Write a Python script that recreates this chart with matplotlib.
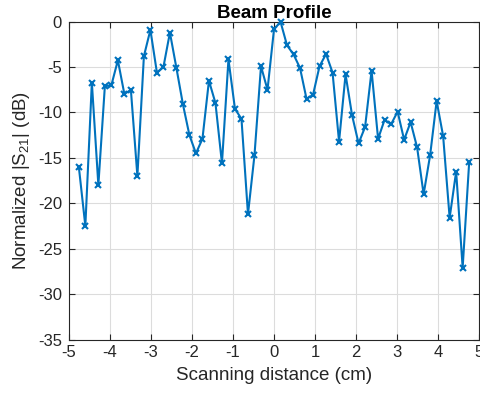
import numpy as np
import matplotlib
matplotlib.use('Agg')
import matplotlib.pyplot as plt

# scan positions (cm), 61 equally spaced steps across the aperture
x_cm = np.linspace(-4.76, 4.76, 61)

# normalized |S21| (dB) at each scan position
s21_db = [
    -16.0, -22.5, -6.7, -18.0, -7.1, -7.0, -4.25, -7.97, -7.5, -17.0,
    -3.8, -0.9, -5.6, -5.0, -1.2, -5.1, -9.1, -12.5, -14.5, -12.9,
    -6.5, -8.96, -15.6, -4.15, -9.6, -10.7, -21.2, -14.7, -4.9, -7.5,
    -0.84, 0.0, -2.6, -3.6, -5.1, -8.5, -8.05, -4.9, -3.56, -5.6,
    -13.2, -5.8, -10.3, -13.4, -11.6, -5.4, -12.9, -10.8, -11.3, -9.9,
    -13.0, -11.06, -13.85, -19.0, -14.7, -8.74, -12.6, -21.6, -16.5, -27.1,
    -15.5,
]

x_ticks = np.arange(-5, 6, 1)
y_ticks = np.arange(-35, 1, 5)

plt.rcParams['font.family'] = ['Liberation Sans', 'DejaVu Sans']
plt.rcParams['axes.unicode_minus'] = False
plt.rcParams['mathtext.fontset'] = 'custom'
plt.rcParams['mathtext.rm'] = 'Liberation Sans'
plt.rcParams['mathtext.it'] = 'Liberation Sans'

fig = plt.figure(figsize=(4.81, 3.94), dpi=100)
ax = fig.add_axes([69 / 481, 1 - 339.5 / 394, (479 - 69) / 481, (339.5 - 21.7) / 394])

ax.plot(x_cm, s21_db, color='#0072BD', lw=1.5, marker='x', ms=4.5, mew=1.5,
        clip_on=False, zorder=3)

ax.set_xlim(-5, 5)
ax.set_ylim(-35, 0)
ax.set_xticks(x_ticks)
ax.set_yticks(y_ticks)
ax.grid(True, color='#dcdcdc', lw=0.8)
ax.set_axisbelow(True)
ax.tick_params(direction='in', top=True, right=True, length=4, width=0.8,
               labelsize=12, colors='#262626')
ax.tick_params(axis='x', pad=4)
ax.tick_params(axis='y', pad=5)
for sp in ax.spines.values():
    sp.set_color('#262626')
    sp.set_linewidth(0.8)

ax.set_xlabel('Scanning distance (cm)', fontsize=13.5, color='#262626', labelpad=5)
ax.set_ylabel('Normalized |S$_{21}$| (dB)', fontsize=13.5, color='#262626', labelpad=4)
ax.set_title('Beam Profile', fontsize=13.5, fontweight='bold', pad=3)

fig.savefig('out.png', dpi=100)
